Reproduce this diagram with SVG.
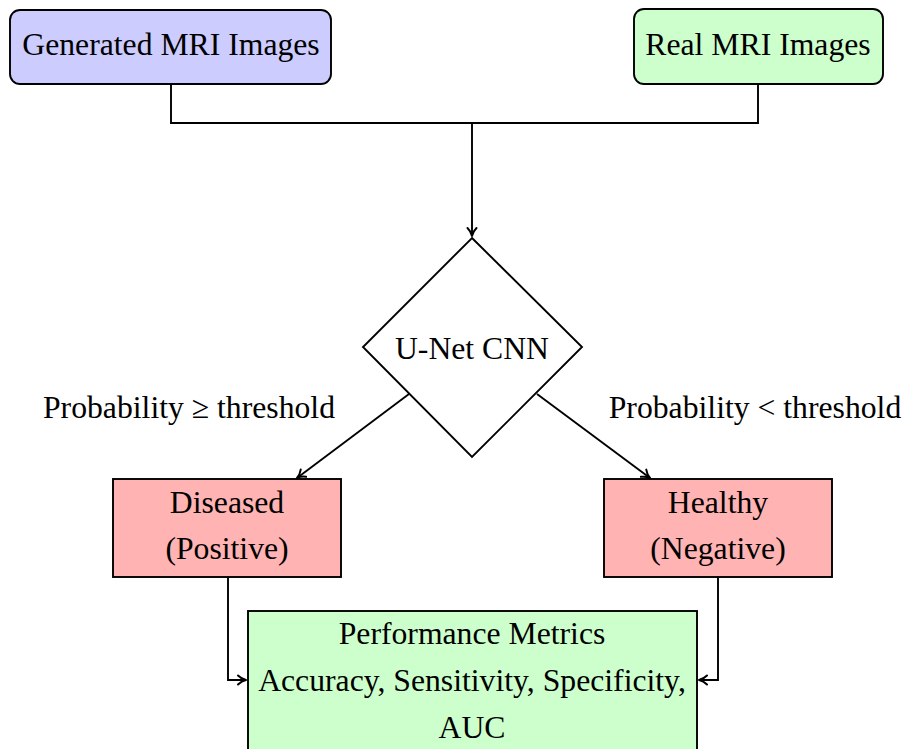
<svg xmlns="http://www.w3.org/2000/svg" width="909" height="749" viewBox="0 0 909 749">
  <defs>
    <style>
      .t { font-family: "Liberation Serif", "Times New Roman", serif; font-size: 31.7px; fill: #000; text-anchor: middle; }
      .box { stroke: #000; stroke-width: 1.9; }
      .edge { fill: none; stroke: #000; stroke-width: 1.9; }
    </style>
    <marker id="arr" viewBox="0 0 12 12" refX="10" refY="6" markerWidth="12" markerHeight="12" markerUnits="userSpaceOnUse" orient="auto">
      <path d="M2,1.5 Q5.5,5 10,6 Q5.5,7 2,10.5" fill="none" stroke="#000" stroke-width="2" stroke-linecap="round" stroke-linejoin="round"/>
    </marker>
  </defs>
  <rect width="909" height="749" fill="#fff"/>

  <!-- connectors -->
  <g id="connectors">
    <polyline class="edge" points="171,84 171,123 758,123 758,84"/>
    <line class="edge" x1="472" y1="123" x2="472" y2="236" marker-end="url(#arr)"/>
    <line class="edge" x1="409" y1="394" x2="297" y2="478" marker-end="url(#arr)"/>
    <line class="edge" x1="537" y1="394" x2="650" y2="478" marker-end="url(#arr)"/>
    <polyline class="edge" points="228,577 228,680 246,680" marker-end="url(#arr)"/>
    <polyline class="edge" points="718,577 718,680 699,680" marker-end="url(#arr)"/>
    <text class="t" x="189" y="418">Probability ≥ threshold</text>
    <text class="t" x="755" y="418">Probability &lt; threshold</text>
  </g>

  <g id="generated">
    <rect class="box" x="10" y="10" width="321" height="74" rx="10" fill="#ccccff"/>
    <text class="t" x="171" y="55">Generated MRI Images</text>
  </g>
  <g id="real">
    <rect class="box" x="634" y="9" width="249" height="75" rx="10" fill="#ccffcc"/>
    <text class="t" x="758" y="55">Real MRI Images</text>
  </g>
  <g id="unet">
    <polygon class="box" points="472,238 582,347 472,457 363,347" fill="#fff"/>
    <text class="t" x="472" y="359">U-Net CNN</text>
  </g>
  <g id="diseased">
    <rect class="box" x="113" y="479" width="228" height="98" fill="#ffb3b3"/>
    <text class="t" x="227" y="513">Diseased</text>
    <text class="t" x="227" y="559">(Positive)</text>
  </g>
  <g id="healthy">
    <rect class="box" x="604" y="479" width="228" height="98" fill="#ffb3b3"/>
    <text class="t" x="718" y="513">Healthy</text>
    <text class="t" x="718" y="559">(Negative)</text>
  </g>
  <g id="metrics">
    <rect class="box" x="248" y="611" width="449" height="150" fill="#ccffcc"/>
    <text class="t" x="472" y="644">Performance Metrics</text>
    <text class="t" x="472" y="691">Accuracy, Sensitivity, Specificity,</text>
    <text class="t" x="472" y="738">AUC</text>
  </g>
</svg>
